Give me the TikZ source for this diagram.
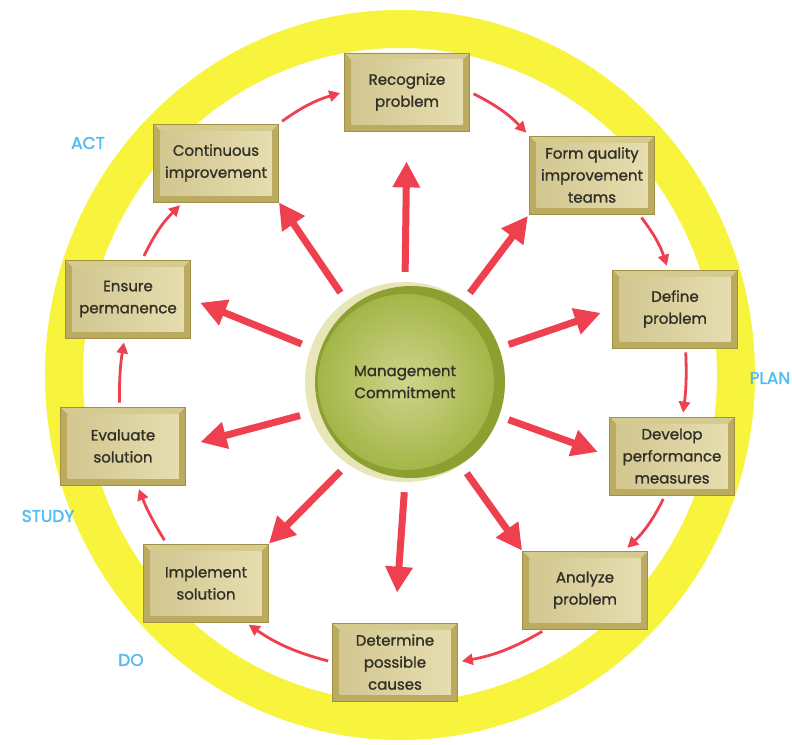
\documentclass[tikz,border=0pt]{standalone}
\usepackage{fontspec}
\setmainfont{Poppins}
\newfontfamily\stepfont{Poppins}[FakeBold=1.2]
\newfontfamily\phasefont{Poppins}[FakeBold=1.6]
\usetikzlibrary{arrows.meta}

\definecolor{ringyellow}{RGB}{248,243,60}
\definecolor{arrowred}{RGB}{238,64,78}
\definecolor{boxframe}{RGB}{186,171,96}
\definecolor{boxedge}{RGB}{160,145,70}
\definecolor{boxtop}{RGB}{214,203,142}
\definecolor{boxinL}{RGB}{210,199,144}
\definecolor{boxinR}{RGB}{230,221,176}
\definecolor{txtgray}{RGB}{50,48,38}
\definecolor{mccream}{RGB}{232,229,184}
\definecolor{mcdark}{RGB}{140,160,50}
\definecolor{mcmid}{RGB}{164,182,72}
\definecolor{mclight}{RGB}{206,212,140}
\definecolor{labelblue}{RGB}{80,188,240}

\begin{document}
\begin{tikzpicture}[x=1bp,y=-1bp,
    stepbox/.style={rectangle,minimum width=125bp,minimum height=78bp,inner sep=0pt,
        fill=boxframe,draw=boxedge,line width=0.8bp,text=txtgray,align=center,
        font=\stepfont\fontsize{15bp}{22bp}\selectfont,
        path picture={
            \fill[boxtop] (path picture bounding box.north west) -- (path picture bounding box.north east)
                -- ([shift={(-7bp,-7bp)}]path picture bounding box.north east)
                -- ([shift={(7bp,-7bp)}]path picture bounding box.north west) -- cycle;
            \shade[left color=boxinL,right color=boxinR]
                ([shift={(7bp,-7bp)}]path picture bounding box.north west) rectangle
                ([shift={(-7bp,7bp)}]path picture bounding box.south east);
        }},
    radarrow/.style={draw=arrowred,line width=7bp,-{Triangle[length=26bp,width=26bp]},shorten <=10bp},
    cycarrow/.style={draw=arrowred,line width=2.8bp,-{Triangle[length=11bp,width=11bp]},shorten <=4bp,shorten >=4bp},
    phase/.style={text=labelblue,font=\phasefont\fontsize{17bp}{20bp}\selectfont}]
    \useasboundingbox (0,0) rectangle (792,745);
    \fill[white] (0,0) rectangle (792,745);
    % PDSA ring
    \fill[ringyellow,even odd rule] (400,375) ellipse [x radius=355bp,y radius=365bp]
        (400,375) ellipse [x radius=317bp,y radius=327bp];

    % centre
    \node (mc) [circle,minimum size=200bp,fill=mccream,text=txtgray,align=center,
        font=\stepfont\fontsize{15bp}{22bp}\selectfont,
        path picture={
            \fill[mcdark] ([xshift=6bp]path picture bounding box.center) circle (96bp);
            \shade[inner color=mclight,outer color=mcmid] ([xshift=1bp]path picture bounding box.center) circle (88bp);
        }] at (405,382) {Management\\Commitment};

    % steps
    \node (rp) [stepbox] at (407,92) {Recognize\\problem};
    \node (fq) [stepbox] at (592,175) {Form quality\\improvement\\teams};
    \node (dp) [stepbox] at (675,309) {Define\\problem};
    \node (dv) [stepbox] at (672,456) {Develop\\performance\\measures};
    \node (an) [stepbox] at (585,590) {Analyze\\problem};
    \node (dc) [stepbox] at (395,662) {Determine\\possible\\causes};
    \node (im) [stepbox] at (206,583) {Implement\\solution};
    \node (ev) [stepbox] at (123,446) {Evaluate\\solution};
    \node (ep) [stepbox] at (128,299) {Ensure\\permanence};
    \node (ci) [stepbox] at (216,163) {Continuous\\improvement};

    % phases
    \node (act) [phase] at (88,143) {ACT};
    \node (plan) [phase] at (770,378) {PLAN};
    \node (study) [phase] at (48,516) {STUDY};
    \node (do) [phase] at (131,660) {DO};

    % commitment arrows
    \draw [radarrow,shorten >=30bp] (mc.90) -- (rp.south);
    \draw [radarrow,shorten >=2bp] (mc.54) -- (fq.south west);
    \draw [radarrow,shorten >=12bp] (mc.20) -- (dp.west);
    \draw [radarrow,shorten >=12bp] (mc.-20) -- (dv.west);
    \draw [radarrow,shorten >=0bp] (mc.-56) -- (an.north west);
    \draw [radarrow,shorten >=30bp] (mc.-90) -- (dc.north);
    \draw [radarrow,shorten >=0bp] (mc.-125) -- (im.north east);
    \draw [radarrow,shorten >=15bp] (mc.-162) -- (ev.east);
    \draw [radarrow,shorten >=10bp] (mc.160) -- (ep.east);
    \draw [radarrow,shorten >=0bp] (mc.126) -- (ci.south east);

    % cycle
    \draw [cycarrow] (ci.north east) to[bend left=10] (rp.west);
    \draw [cycarrow] (rp.east) to[bend left=10] (fq.north west);
    \draw [cycarrow] (fq.-40) to[bend left=10] (dp.100);
    \draw [cycarrow] (dp.-75) to[bend left=5] (dv.75);
    \draw [cycarrow] (dv.-100) to[bend left=10] (an.45);
    \draw [cycarrow] (an.-135) to[bend left=10] (dc.east);
    \draw [cycarrow] (dc.west) to[bend left=10] (im.-45);
    \draw [cycarrow] (im.135) to[bend left=5] (ev.-70);
    \draw [cycarrow] (ev.95) to[bend left=5] (ep.-95);
    \draw [cycarrow] (ep.70) to[bend left=10] (ci.-130);
\end{tikzpicture}
\end{document}
